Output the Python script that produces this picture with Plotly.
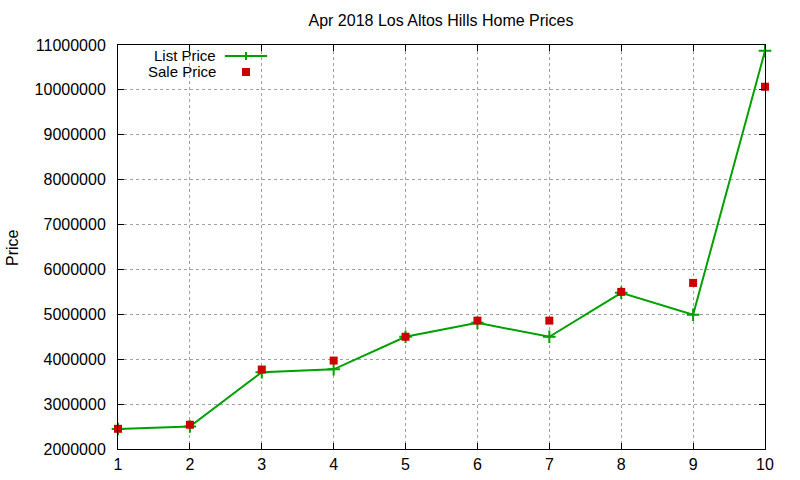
import plotly.graph_objects as go

homes = [1, 2, 3, 4, 5, 6, 7, 8, 9, 10]
list_price = [2445000, 2500000, 3710000, 3775000, 4500000, 4810000, 4500000, 5480000, 4990000, 10870000]
sale_price = [2450000, 2540000, 3770000, 3970000, 4500000, 4860000, 4860000, 5500000, 5700000, 10070000]
y_ticks = [2000000, 3000000, 4000000, 5000000, 6000000, 7000000, 8000000, 9000000, 10000000, 11000000]

green = "#00a000"
red = "#cc0000"
font = dict(family="Liberation Sans, Arial, sans-serif", size=16, color="black")
key_font = dict(font, size=15)

# plot area in pixels (gnuplot-like layout)
L, R, T, B = 118, 765, 45, 449


def px(x):
    return (x - L) / (R - L)


def py(y):
    return (B - y) / (B - T)


fig = go.Figure()
fig.add_trace(go.Scatter(
    x=homes, y=list_price, name="List Price", mode="lines+markers",
    line=dict(color=green, width=2),
    marker=dict(symbol="cross-thin", size=9, line=dict(color=green, width=2)),
    cliponaxis=False,
))
fig.add_trace(go.Scatter(
    x=homes, y=sale_price, name="Sale Price", mode="markers",
    marker=dict(symbol="square", size=8, color=red),
    cliponaxis=False,
))

axis_common = dict(
    showline=True, linecolor="black", linewidth=1, mirror="ticks",
    ticks="inside", ticklen=6, tickcolor="black", tickwidth=1,
    showgrid=True, gridcolor="#a0a0a0", gridwidth=1, griddash="3px,3px",
    zeroline=False, tickfont=font, automargin=False,
)
fig.update_xaxes(range=[1, 10], tickvals=homes, ticklabelstandoff=1, **axis_common)
fig.update_yaxes(range=[2000000, 11000000], tickvals=y_ticks,
                 ticktext=[str(v) for v in y_ticks], ticklabelstandoff=8, **axis_common)

# manual gnuplot-style legend (text on the left, sample on the right)
fig.add_annotation(x=px(217), y=py(55), xref="paper", yref="paper", text="List Price",
                   showarrow=False, xanchor="right", yanchor="middle", font=key_font, borderpad=0)
fig.add_annotation(x=px(217), y=py(72), xref="paper", yref="paper", text="Sale Price",
                   showarrow=False, xanchor="right", yanchor="middle", font=key_font, borderpad=0)
fig.add_shape(type="line", xref="paper", yref="paper", x0=px(225), x1=px(267), y0=py(56), y1=py(56),
              line=dict(color=green, width=2))
fig.add_shape(type="line", xref="paper", yref="paper", x0=px(246), x1=px(246), y0=py(52), y1=py(60),
              line=dict(color=green, width=2))
fig.add_shape(type="rect", xref="paper", yref="paper", x0=px(242), x1=px(250), y0=py(68), y1=py(76),
              line=dict(width=0), fillcolor=red)

fig.add_annotation(x=px(12), y=py(248), xref="paper", yref="paper", text="Price",
                   textangle=-90, showarrow=False, xanchor="center", yanchor="middle", font=font)

fig.update_layout(
    width=800, height=480,
    margin=dict(l=L, r=800 - R, t=T, b=480 - B),
    paper_bgcolor="white", plot_bgcolor="white",
    showlegend=False,
    font=font,
    title=dict(text="Apr 2018 Los Altos Hills Home Prices", x=px(441), xref="paper",
               y=1 - 20 / 480, yref="container", xanchor="center", yanchor="middle", font=font),
)

# drop the browser's default 8px body margin so the figure fills the window
fig.write_html("out.html", config={"displayModeBar": False},
               post_script="document.body.style.margin='0px';")
